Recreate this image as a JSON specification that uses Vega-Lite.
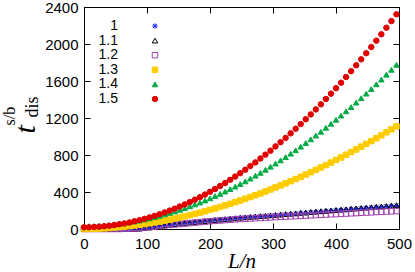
{
  "$schema": "https://vega.github.io/schema/vega-lite/v6.json",
  "width": 315,
  "height": 222,
  "autosize": {"type": "none"},
  "padding": {"left": 84, "top": 7, "right": 16, "bottom": 43},
  "background": "white",
  "config": {
    "view": {"stroke": "black", "strokeWidth": 1},
    "axis": {"grid": false, "domain": false, "tickColor": "black", "tickSize": -6, "tickWidth": 1, "labelFont": "Liberation Sans", "labelFontSize": 15, "labelColor": "black", "titleColor": "black", "labelFlush": false, "format": "d"}
  },
  "resolve": {"axis": {"x": "independent", "y": "independent"}},
  "layer": [
    {
      "data": {"values": [
        {"x":0,"s10":0,"s11":0,"s12":0,"s13":0,"s14":30,"s15":18},
        {"x":8,"s10":0,"s11":0,"s12":0,"s13":1,"s14":31,"s15":19},
        {"x":16,"s10":0,"s11":0,"s12":0,"s13":2,"s14":32,"s15":22},
        {"x":24,"s10":0,"s11":0,"s12":0,"s13":4,"s14":35,"s15":25},
        {"x":32,"s10":0,"s11":0,"s12":0,"s13":7,"s14":39,"s15":30},
        {"x":40,"s10":0,"s11":0,"s12":0,"s13":11,"s14":43,"s15":36},
        {"x":48,"s10":0,"s11":0,"s12":0,"s13":15,"s14":49,"s15":43},
        {"x":56,"s10":0,"s11":0,"s12":0,"s13":20,"s14":56,"s15":52},
        {"x":64,"s10":0,"s11":0,"s12":2,"s13":25,"s14":63,"s15":60},
        {"x":72,"s10":0,"s11":0,"s12":4,"s13":31,"s14":72,"s15":71},
        {"x":80,"s10":1,"s11":1,"s12":7,"s13":38,"s14":81,"s15":84},
        {"x":88,"s10":4,"s11":4,"s12":11,"s13":45,"s14":91,"s15":96},
        {"x":96,"s10":10,"s11":10,"s12":15,"s13":53,"s14":103,"s15":110},
        {"x":104,"s10":17,"s11":17,"s12":20,"s13":62,"s14":115,"s15":126},
        {"x":112,"s10":25,"s11":25,"s12":26,"s13":71,"s14":128,"s15":142},
        {"x":120,"s10":33,"s11":33,"s12":32,"s13":80,"s14":142,"s15":160},
        {"x":128,"s10":40,"s11":40,"s12":38,"s13":91,"s14":157,"s15":179},
        {"x":136,"s10":47,"s11":47,"s12":44,"s13":101,"s14":173,"s15":199},
        {"x":144,"s10":53,"s11":53,"s12":49,"s13":113,"s14":189,"s15":220},
        {"x":152,"s10":59,"s11":59,"s12":54,"s13":124,"s14":207,"s15":243},
        {"x":160,"s10":65,"s11":65,"s12":59,"s13":137,"s14":225,"s15":266},
        {"x":168,"s10":70,"s11":70,"s12":64,"s13":150,"s14":245,"s15":291},
        {"x":176,"s10":75,"s11":75,"s12":69,"s13":163,"s14":265,"s15":317},
        {"x":184,"s10":80,"s11":80,"s12":74,"s13":177,"s14":286,"s15":344},
        {"x":192,"s10":85,"s11":85,"s12":79,"s13":192,"s14":308,"s15":372},
        {"x":200,"s10":90,"s11":91,"s12":84,"s13":207,"s14":331,"s15":402},
        {"x":208,"s10":95,"s11":96,"s12":88,"s13":222,"s14":355,"s15":432},
        {"x":216,"s10":100,"s11":101,"s12":92,"s13":238,"s14":379,"s15":465},
        {"x":224,"s10":105,"s11":106,"s12":96,"s13":255,"s14":405,"s15":497},
        {"x":232,"s10":110,"s11":111,"s12":100,"s13":272,"s14":431,"s15":532},
        {"x":240,"s10":115,"s11":116,"s12":104,"s13":290,"s14":458,"s15":567},
        {"x":248,"s10":120,"s11":122,"s12":108,"s13":308,"s14":486,"s15":604},
        {"x":256,"s10":124,"s11":126,"s12":111,"s13":327,"s14":515,"s15":641},
        {"x":264,"s10":129,"s11":131,"s12":114,"s13":346,"s14":545,"s15":681},
        {"x":272,"s10":133,"s11":135,"s12":117,"s13":365,"s14":576,"s15":720},
        {"x":280,"s10":137,"s11":139,"s12":120,"s13":385,"s14":607,"s15":762},
        {"x":288,"s10":141,"s11":143,"s12":123,"s13":406,"s14":640,"s15":804},
        {"x":296,"s10":146,"s11":148,"s12":126,"s13":427,"s14":673,"s15":847},
        {"x":304,"s10":150,"s11":152,"s12":129,"s13":449,"s14":707,"s15":893},
        {"x":312,"s10":154,"s11":156,"s12":132,"s13":471,"s14":742,"s15":939},
        {"x":320,"s10":159,"s11":161,"s12":134,"s13":493,"s14":777,"s15":985},
        {"x":328,"s10":163,"s11":165,"s12":137,"s13":517,"s14":814,"s15":1034},
        {"x":336,"s10":167,"s11":169,"s12":140,"s13":540,"s14":851,"s15":1084},
        {"x":344,"s10":172,"s11":174,"s12":142,"s13":564,"s14":890,"s15":1134},
        {"x":352,"s10":176,"s11":178,"s12":145,"s13":589,"s14":929,"s15":1187},
        {"x":360,"s10":180,"s11":183,"s12":148,"s13":614,"s14":969,"s15":1239},
        {"x":368,"s10":185,"s11":187,"s12":151,"s13":639,"s14":1010,"s15":1293},
        {"x":376,"s10":189,"s11":192,"s12":153,"s13":665,"s14":1051,"s15":1348},
        {"x":384,"s10":193,"s11":196,"s12":156,"s13":691,"s14":1094,"s15":1406},
        {"x":392,"s10":198,"s11":201,"s12":159,"s13":718,"s14":1137,"s15":1463},
        {"x":400,"s10":202,"s11":205,"s12":161,"s13":746,"s14":1181,"s15":1522},
        {"x":408,"s10":206,"s11":209,"s12":164,"s13":773,"s14":1226,"s15":1582},
        {"x":416,"s10":210,"s11":213,"s12":167,"s13":802,"s14":1272,"s15":1643},
        {"x":424,"s10":215,"s11":218,"s12":170,"s13":831,"s14":1318,"s15":1706},
        {"x":432,"s10":219,"s11":222,"s12":172,"s13":860,"s14":1366,"s15":1770},
        {"x":440,"s10":223,"s11":226,"s12":175,"s13":890,"s14":1414,"s15":1834},
        {"x":448,"s10":228,"s11":231,"s12":178,"s13":920,"s14":1463,"s15":1900},
        {"x":456,"s10":232,"s11":235,"s12":180,"s13":950,"s14":1513,"s15":1967},
        {"x":464,"s10":236,"s11":240,"s12":183,"s13":981,"s14":1564,"s15":2036},
        {"x":472,"s10":241,"s11":244,"s12":186,"s13":1013,"s14":1615,"s15":2105},
        {"x":480,"s10":245,"s11":248,"s12":189,"s13":1045,"s14":1668,"s15":2176},
        {"x":488,"s10":249,"s11":253,"s12":191,"s13":1077,"s14":1721,"s15":2248},
        {"x":496,"s10":254,"s11":257,"s12":194,"s13":1110,"s14":1775,"s15":2321}
      ]},
      "transform": [{"fold": ["s10", "s11", "s12", "s13", "s14", "s15"], "as": ["series", "v"]}],
      "mark": {"type": "point", "filled": true, "size": 30, "strokeWidth": 1, "opacity": 1},
      "encoding": {
        "x": {"field": "x", "type": "quantitative", "scale": {"domain": [0, 500], "nice": false, "zero": false},
          "axis": {"values": [0, 100, 200, 300, 400, 500], "labelPadding": 13, "title": "L/n", "titleFont": "Liberation Serif", "titleFontStyle": "italic", "titleFontSize": 21, "titleFontWeight": "normal", "titleY": 38, "titleBaseline": "alphabetic"}},
        "y": {"field": "v", "type": "quantitative", "scale": {"domain": [0, 2400], "nice": false},
          "axis": {"values": [0, 400, 800, 1200, 1600, 2000, 2400], "labelPadding": 12, "title": "t", "titleFont": "Liberation Serif", "titleFontStyle": "italic", "titleFontSize": 30, "titleFontWeight": "normal", "titleAngle": -90, "titleAlign": "left", "titleBaseline": "alphabetic", "titleX": -50, "titleY": 126}},
        "shape": {"field": "series", "type": "nominal",
          "scale": {"domain": ["s10", "s11", "s12", "s13", "s14", "s15"], "range": ["M-1,0L1,0M0,-1L0,1M-0.72,-0.72L0.72,0.72M-0.72,0.72L0.72,-0.72", "triangle-up", "square", "square", "triangle-up", "circle"]},
          "legend": {"title": null, "orient": "none", "legendX": 20, "legendY": 12, "labelAlign": "right", "labelFont": "Liberation Sans", "labelFontSize": 14, "labelColor": "black", "symbolOffset": 44, "labelOffset": -44, "rowPadding": 0.6, "symbolSize": 30, "symbolStrokeWidth": 1, "padding": 0, "labelExpr": "datum.label == 's10' ? '1' : '1.' + substring(datum.label, 2)"}},
        "fill": {"field": "series", "type": "nominal",
          "scale": {"domain": ["s10", "s11", "s12", "s13", "s14", "s15"], "range": ["transparent", "transparent", "transparent", "#ffcc00", "#00aa44", "#e00000"]}},
        "stroke": {"field": "series", "type": "nominal",
          "scale": {"domain": ["s10", "s11", "s12", "s13", "s14", "s15"], "range": ["#2020ff", "#000000", "#a040b0", "#ffcc00", "#00aa44", "#e00000"]}},
        "order": {"field": "series", "type": "ordinal"}
      }
    },
    {
      "data": {"values": [{"x": 0, "v": 0}]},
      "mark": {"type": "point", "opacity": 0},
      "encoding": {
        "x": {"field": "x", "type": "quantitative", "axis": {"orient": "top", "values": [0, 100, 200, 300, 400, 500], "labels": false, "title": null}},
        "y": {"field": "v", "type": "quantitative", "axis": {"orient": "right", "values": [0, 400, 800, 1200, 1600, 2000, 2400], "labels": false, "title": null}}
      }
    },
    {
      "data": {"values": [{"x": 0, "v": 0}]},
      "mark": {"type": "point", "opacity": 0},
      "encoding": {
        "x": {"field": "x", "type": "quantitative", "axis": null},
        "y": {"field": "v", "type": "quantitative", "axis": {"orient": "left", "labels": false, "ticks": false, "domain": false, "title": "s/b", "titleFont": "Liberation Serif", "titleFontSize": 16, "titleFontWeight": "normal", "titleAngle": -90, "titleAlign": "left", "titleBaseline": "alphabetic", "titleX": -70, "titleY": 118}}
      }
    },
    {
      "data": {"values": [{"x": 0, "v": 0}]},
      "mark": {"type": "point", "opacity": 0},
      "encoding": {
        "x": {"field": "x", "type": "quantitative", "axis": null},
        "y": {"field": "v", "type": "quantitative", "axis": {"orient": "left", "labels": false, "ticks": false, "domain": false, "title": "dis", "titleFont": "Liberation Serif", "titleFontSize": 18, "titleFontWeight": "normal", "titleAngle": -90, "titleAlign": "left", "titleBaseline": "alphabetic", "titleX": -47, "titleY": 110}}
      }
    }
  ]
}
